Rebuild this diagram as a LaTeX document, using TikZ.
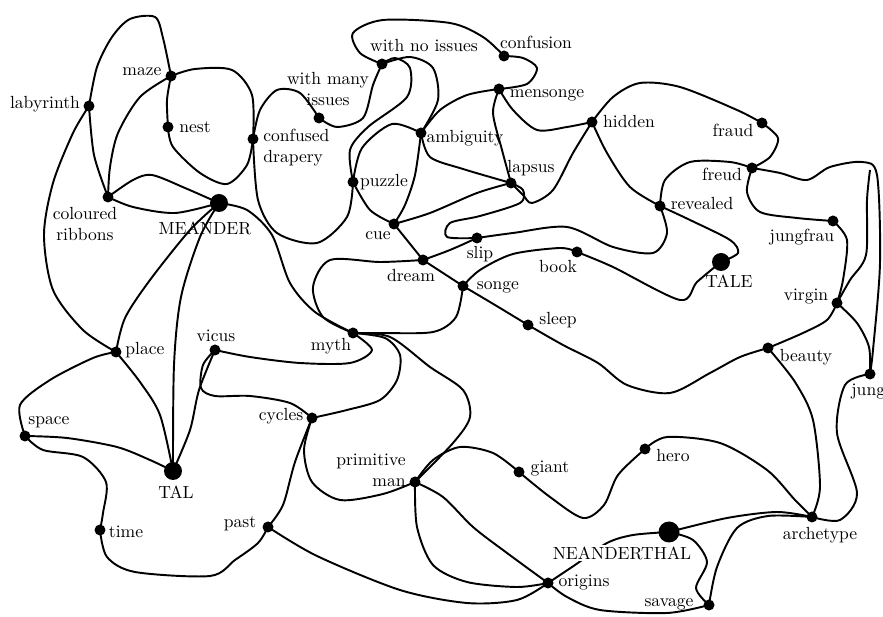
\documentclass[tikz,border=0pt]{standalone}
\usetikzlibrary{backgrounds}

\tikzset{
  wire/.style={line width=1.1pt, line join=round},
  dot/.style={circle, fill, inner sep=0pt, minimum size=0.22cm},
  hub/.style={circle, fill, inner sep=0pt, minimum size=0.36cm},
  lbl/.style={inner sep=0pt, align=center}
}

\begin{document}
\begin{tikzpicture}[x=0.02cm, y=-0.02cm]
    \useasboundingbox (0,0) rectangle (883,617);

    % the words
    \node[dot] (lab) at (89,106) {};
    \node[dot] (maze) at (171,76) {};
    \node[dot] (nest) at (168,127) {};
    \node[dot] (drap) at (253,139) {};
    \node[dot] (ribb) at (108,197) {};
    \node[hub] (mea) at (219,203) {};
    \node[dot] (wmi) at (319,118) {};
    \node[dot] (wni) at (382,64) {};
    \node[dot] (conf) at (504,56) {};
    \node[dot] (mens) at (499,89) {};
    \node[dot] (amb) at (421,133) {};
    \node[dot] (puz) at (353,182) {};
    \node[dot] (cue) at (394,224) {};
    \node[dot] (lap) at (511,183) {};
    \node[dot] (hid) at (592,122) {};
    \node[dot] (fraud) at (762,123) {};
    \node[dot] (freud) at (752,168) {};
    \node[dot] (rev) at (660,206) {};
    \node[dot] (slip) at (477,238) {};
    \node[dot] (dream) at (423,260) {};
    \node[dot] (songe) at (463,286) {};
    \node[dot] (book) at (577,252) {};
    \node[hub] (tale) at (721,262) {};
    \node[dot] (jf) at (833,221) {};
    \node[dot] (virg) at (837,303) {};
    \node[dot] (beau) at (768,348) {};
    \node[dot] (jung) at (870,374) {};
    \node[dot] (sleep) at (528,325) {};
    \node[dot] (myth) at (353,333) {};
    \node[dot] (vicus) at (215,350) {};
    \node[dot] (place) at (116,352) {};
    \node[dot] (space) at (25,436) {};
    \node[hub] (tal) at (173,471) {};
    \node[dot] (cyc) at (312,418) {};
    \node[dot] (pm) at (415,482) {};
    \node[dot] (giant) at (519,472) {};
    \node[dot] (hero) at (645,449) {};
    \node[dot] (past) at (268,527) {};
    \node[dot] (time) at (100,530) {};
    \node[dot] (ori) at (548,583) {};
    \node[hub, minimum size=0.42cm] (nean) at (669,532) {};
    \node[dot] (arch) at (812,517) {};
    \node[dot] (sav) at (709,605) {};
    \coordinate (arcjoin) at (870,170);

    % their names
    \node[lbl] (t-lab) at (45,104) {labyrinth};
    \node[lbl] (t-maze) at (142,72) {maze};
    \node[lbl] (t-nest) at (195,127) {nest};
    \node[lbl, anchor=west, align=left] (t-drap) at (263,148) {confused\\drapery};
    \node[lbl] (t-ribb) at (85,224) {coloured\\ribbons};
    \node[lbl] (t-mea) at (205,228) {MEANDER};
    \node[lbl] (t-wmi) at (328,89) {with many\\issues};
    \node[lbl] (t-wni) at (424,46) {with no issues};
    \node[lbl] (t-conf) at (536,42) {confusion};
    \node[lbl] (t-mens) at (547,95) {mensonge};
    \node[lbl] (t-amb) at (465,138) {ambiguity};
    \node[lbl] (t-lap) at (531,168) {lapsus};
    \node[lbl] (t-hid) at (629,122) {hidden};
    \node[lbl] (t-puz) at (384,182) {puzzle};
    \node[lbl] (t-cue) at (378,236) {cue};
    \node[lbl] (t-slip) at (480,254) {slip};
    \node[lbl] (t-dream) at (411,276) {dream};
    \node[lbl] (t-songe) at (498,287) {songe};
    \node[lbl] (t-book) at (558,267) {book};
    \node[lbl] (t-sleep) at (558,320) {sleep};
    \node[lbl] (t-myth) at (331,346) {myth};
    \node[lbl] (t-fraud) at (733,130) {fraud};
    \node[lbl] (t-freud) at (722,174) {freud};
    \node[lbl] (t-rev) at (702,204) {revealed};
    \node[lbl] (t-tale) at (729,281) {TALE};
    \node[lbl] (t-jf) at (802,237) {jungfrau};
    \node[lbl] (t-virg) at (806,297) {virgin};
    \node[lbl] (t-beau) at (806,357) {beauty};
    \node[lbl, anchor=west] (t-jung) at (851,392) {jung};
    \node[lbl] (t-arch) at (820,535) {archetype};
    \node[lbl] (t-hero) at (673,456) {hero};
    \node[lbl, fill=white, inner sep=1pt] (t-nean) at (622,553) {NEANDERTHAL};
    \node[lbl] (t-ori) at (584,583) {origins};
    \node[lbl] (t-sav) at (669,604) {savage};
    \node[lbl] (t-giant) at (550,469) {giant};
    \node[lbl, anchor=east, align=right] (t-pm) at (406,470) {primitive\\man};
    \node[lbl] (t-cyc) at (281,416) {cycles};
    \node[lbl] (t-past) at (240,524) {past};
    \node[lbl] (t-time) at (126,532) {time};
    \node[lbl] (t-tal) at (176,492) {TAL};
    \node[lbl] (t-space) at (49,422) {space};
    \node[lbl] (t-place) at (145,350) {place};
    \node[lbl] (t-vicus) at (216,336) {vicus};

    \begin{scope}[on background layer]
    % maze corner
    \draw[wire] plot[smooth] coordinates {(lab.center) (97,67) (112,37) (130,19) (155,17) (163,38) (maze.center)};
    \draw[wire] plot[smooth] coordinates {(lab.center) (94,155) (ribb.center)};
    \draw[wire] plot[smooth] coordinates {(lab.center) (73,133) (53,183) (44,235) (53,290) (83,330) (place.center)};
    \draw[wire] plot[smooth] coordinates {(maze.center) (167,100) (nest.center)};
    \draw[wire] plot[smooth] coordinates {(maze.center) (195,69) (232,70) (252,95) (drap.center)};
    \draw[wire] plot[smooth] coordinates {(nest.center) (173,147) (200,173) (227,184) (247,165) (drap.center)};
    \draw[wire] plot[smooth] coordinates {(maze.center) (140,97) (118,133) (110,167) (ribb.center)};
    \draw[wire] plot[smooth] coordinates {(ribb.center) (133,180) (152,175) (185,188) (mea.center)};
    \draw[wire] plot[smooth] coordinates {(ribb.center) (133,207) (175,213) (mea.center)};
    \draw[wire] plot[smooth] coordinates {(mea.center) (247,210) (272,235) (290,283) (315,312) (myth.center)};
    \draw[wire] plot[smooth] coordinates {(mea.center) (190,230) (150,280) (125,318) (place.center)};
    \draw[wire] plot[smooth] coordinates {(mea.center) (200,237) (181,297) (174,365) (tal.center)};

    % TAL corner
    \draw[wire] plot[smooth] coordinates {(place.center) (140,382) (160,415) (tal.center)};
    \draw[wire] plot[smooth] coordinates {(place.center) (93,358) (50,380) (20,405) (space.center)};
    \draw[wire] plot[smooth] coordinates {(space.center) (67,438) (117,447) (150,460) (tal.center)};
    \draw[wire] plot[smooth] coordinates {(space.center) (43,450) (83,457) (106,482) (103,513) (time.center)};
    \draw[wire] plot[smooth] coordinates {(time.center) (107,557) (135,572) (210,576) (235,560) (258,543) (past.center)};
    \draw[wire] plot[smooth] coordinates {(past.center) (283,505) (295,462) (cyc.center)};
    \draw[wire] plot[smooth] coordinates {(tal.center) (190,430) (199,390) (vicus.center)};
    \draw[wire] plot[smooth] coordinates {(vicus.center) (203,365) (201,388) (215,396) (250,396) (290,403) (cyc.center)};
    \draw[wire] plot[smooth] coordinates {(vicus.center) (250,357) (300,363) (350,363) (372,350) (myth.center)};
    \draw[wire] plot[smooth] coordinates {(cyc.center) (347,410) (380,400) (397,380) (400,355) (385,338) (myth.center)};

    % myth and dream
    \draw[wire] plot[smooth] coordinates {(myth.center) (390,337) (430,367) (463,390) (470,417) (453,443) (pm.center)};
    \draw[wire] plot[smooth] coordinates {(dream.center) (380,262) (330,260) (313,287) (323,317) (myth.center)};
    \draw[wire] plot[smooth] coordinates {(myth.center) (380,333) (433,332) (456,317) (songe.center)};
    \draw[wire] (cue.center) -- (dream.center) -- (songe.center);
    \draw[wire] plot[smooth] coordinates {(dream.center) (450,250) (slip.center)};
    \draw[wire] plot[smooth] coordinates {(songe.center) (495,305) (sleep.center)};
    \draw[wire] plot[smooth] coordinates {(songe.center) (480,270) (513,254) (560,248) (book.center)};
    \draw[wire] plot[smooth] coordinates {(book.center) (613,267) (680,300) (697,282) (tale.center)};
    \draw[wire] plot[smooth] coordinates {(sleep.center) (563,345) (598,363) (627,385) (670,393) (710,373) (740,357) (beau.center)};

    % primitive man
    \draw[wire] plot[smooth] coordinates {(cyc.center) (304,450) (312,482) (340,500) (383,494) (pm.center)};
    \draw[wire] plot[smooth] coordinates {(pm.center) (433,460) (460,447) (493,453) (giant.center)};
    \draw[wire] plot[smooth] coordinates {(giant.center) (550,497) (583,518) (604,505) (618,475) (hero.center)};
    \draw[wire] plot[smooth] coordinates {(hero.center) (667,437) (720,443) (767,470) (795,500) (arch.center)};
    \draw[wire] plot[smooth] coordinates {(pm.center) (443,497) (473,527) (507,553) (ori.center)};
    \draw[wire] plot[smooth] coordinates {(pm.center) (417,527) (433,565) (467,582) (517,587) (ori.center)};
    \draw[wire] plot[smooth] coordinates {(past.center) (317,556) (400,590) (467,603) (517,600) (ori.center)};

    % NEANDERTHAL
    \draw[wire] plot[smooth] coordinates {(ori.center) (567,597) (600,610) (667,613) (sav.center)};
    \draw[wire] plot[smooth] coordinates {(nean.center) (633,535) (607,543) (575,565) (ori.center)};
    \draw[wire] plot[smooth] coordinates {(nean.center) (693,540) (707,562) (696,588) (sav.center)};
    \draw[wire] plot[smooth] coordinates {(nean.center) (727,518) (777,512) (arch.center)};
    \draw[wire] plot[smooth] coordinates {(sav.center) (717,567) (737,528) (768,516) (arch.center)};

    % right edge
    \draw[wire] plot[smooth] coordinates {(arch.center) (820,487) (813,420) (795,382) (beau.center)};
    \draw[wire] plot[smooth] coordinates {(arch.center) (840,520) (857,493) (837,433) (845,385) (jung.center)};
    \draw[wire] plot[smooth] coordinates {(beau.center) (803,333) (827,320) (virg.center)};
    \draw[wire] plot[smooth] coordinates {(virg.center) (857,323) (869,347) (jung.center)};
    \draw[wire] plot[smooth] coordinates {(jf.center) (847,240) (843,280) (virg.center)};
    \draw[wire] plot[smooth] coordinates {(freud.center) (780,173) (807,180) (830,167) (862,162) (877,175) (880,263) (873,350) (jung.center)};
    \draw[wire] plot[smooth] coordinates {(virg.center) (850,280) (866,255) (867,200) (arcjoin)};
    \draw[wire] plot[smooth] coordinates {(freud.center) (747,192) (760,212) (797,218) (jf.center)};
    \draw[wire] plot[smooth] coordinates {(freud.center) (770,157) (778,138) (fraud.center)};
    \draw[wire] plot[smooth] coordinates {(fraud.center) (737,110) (680,87) (640,83) (613,97) (hid.center)};
    \draw[wire] plot[smooth] coordinates {(freud.center) (730,162) (690,162) (665,180) (rev.center)};
    \draw[wire] plot[smooth] coordinates {(hid.center) (607,153) (630,187) (rev.center)};
    \draw[wire] plot[smooth] coordinates {(rev.center) (690,220) (730,240) (738,253) (tale.center)};
    \draw[wire] plot[smooth] coordinates {(rev.center) (667,233) (653,253) (613,247) (567,227) (513,233) (slip.center)};

    % lapsus and ambiguity
    \draw[wire] plot[smooth] coordinates {(slip.center) (447,237) (450,223) (480,216) (520,203) (523,190) (lap.center)};
    \draw[wire] plot[smooth] coordinates {(lap.center) (477,193) (430,213) (cue.center)};
    \draw[wire] plot[smooth] coordinates {(amb.center) (430,157) (463,169) (lap.center)};
    \draw[wire] plot[smooth] coordinates {(lap.center) (502,150) (493,113) (mens.center)};
    \draw[wire] plot[smooth] coordinates {(lap.center) (523,195) (532,203) (553,190) (573,153) (hid.center)};
    \draw[wire] plot[smooth] coordinates {(mens.center) (513,110) (537,130) (567,127) (hid.center)};
    \draw[wire] plot[smooth] coordinates {(mens.center) (467,95) (440,110) (amb.center)};
    \draw[wire] plot[smooth] coordinates {(mens.center) (527,84) (537,68) (523,58) (conf.center)};
    \draw[wire] plot[smooth] coordinates {(conf.center) (483,37) (450,23) (383,20) (353,33) (360,53) (wni.center)};
    \draw[wire] plot[smooth] coordinates {(wni.center) (373,85) (363,118) (337,127) (wmi.center)};
    \draw[wire] plot[smooth] coordinates {(wmi.center) (300,93) (277,90) (260,110) (drap.center)};
    \draw[wire] plot[smooth] coordinates {(drap.center) (258,200) (277,233) (317,243) (347,217) (puz.center)};
    \draw[wire] plot[smooth] coordinates {(wni.center) (395,58) (410,68) (407,97) (368,127) (350,150) (puz.center)};
    \draw[wire] plot[smooth] coordinates {(wni.center) (410,57) (433,68) (438,100) (amb.center)};
    \draw[wire] plot[smooth] coordinates {(puz.center) (362,148) (392,124) (amb.center)};
    \draw[wire] plot[smooth] coordinates {(puz.center) (370,210) (cue.center)};
    \draw[wire] plot[smooth] coordinates {(amb.center) (415,175) (405,205) (cue.center)};
    \end{scope}
\end{tikzpicture}
\end{document}
